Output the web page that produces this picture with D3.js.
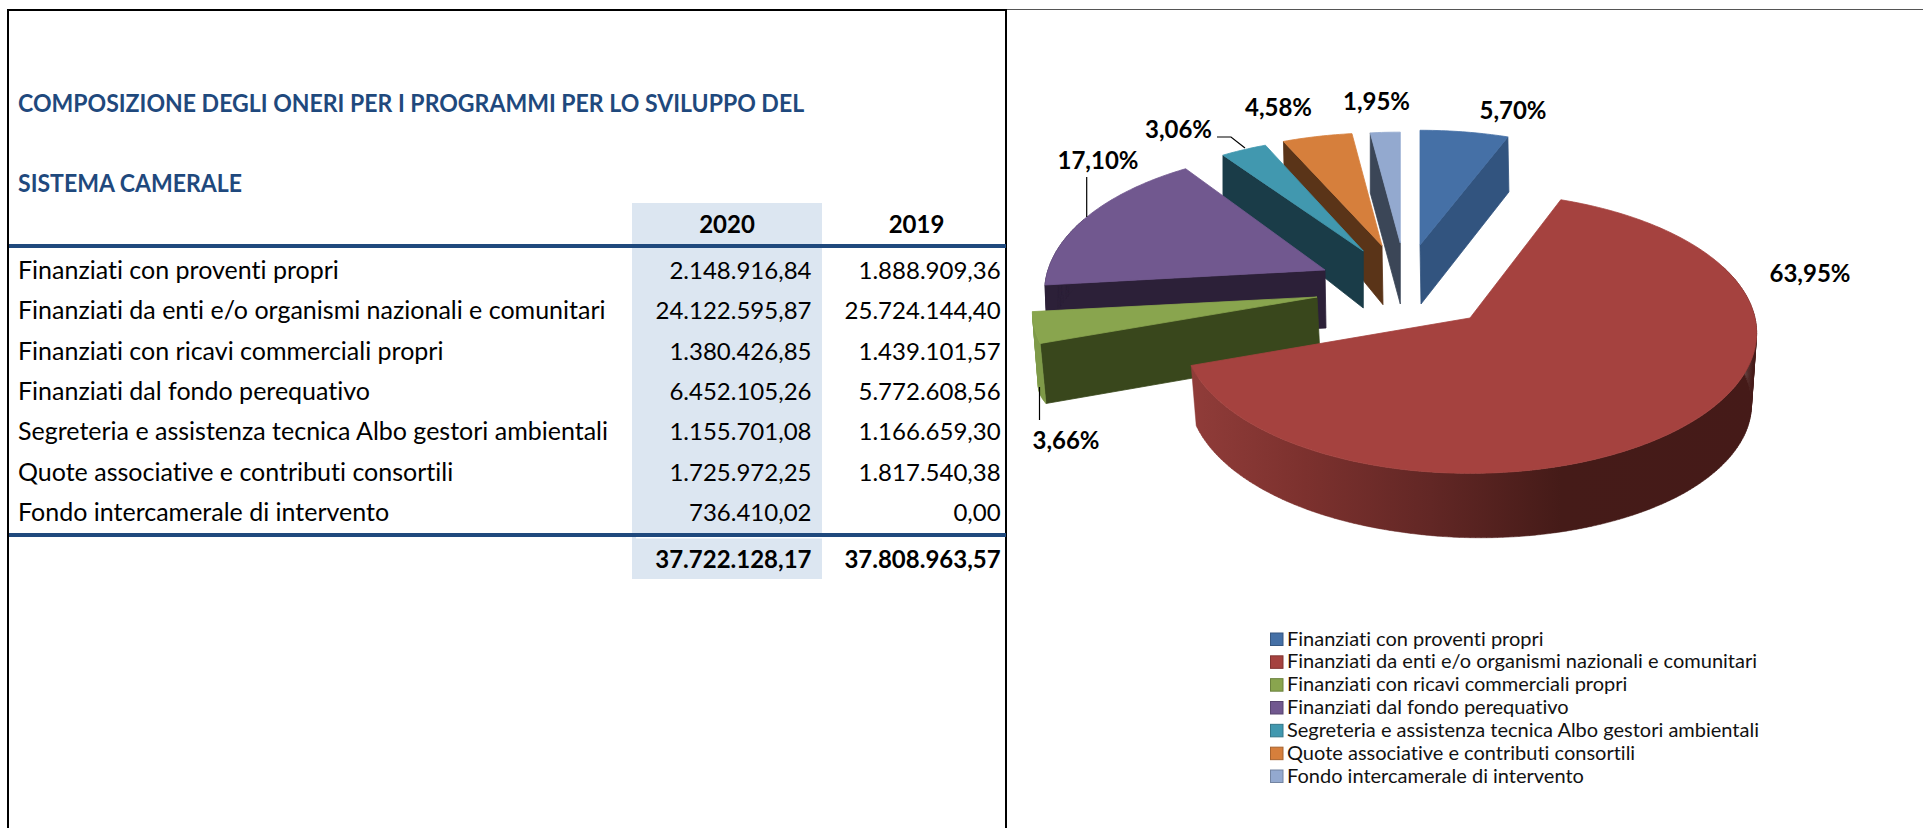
<!DOCTYPE html>
<html><head><meta charset="utf-8">
<script src="https://cdn.jsdelivr.net/npm/d3@7/dist/d3.min.js"></script>
<style>html,body{margin:0;padding:0;background:#fff}svg{display:block}text{font-family:Lato,"Open Sans",sans-serif;font-variant-ligatures:none}</style>
</head><body><svg id="c" width="1923" height="828"></svg>
<script>
const titleLines = ["COMPOSIZIONE DEGLI ONERI PER I PROGRAMMI PER LO SVILUPPO DEL","SISTEMA CAMERALE"];
const years = ["2020","2019"];
const categories = ["Finanziati con proventi propri","Finanziati da enti e/o organismi nazionali e comunitari","Finanziati con ricavi commerciali propri","Finanziati dal fondo perequativo","Segreteria e assistenza tecnica Albo gestori ambientali","Quote associative e contributi consortili","Fondo intercamerale di intervento"];
const values2020 = [2148916.84,24122595.87,1380426.85,6452105.26,1155701.08,1725972.25,736410.02];
const values2019 = [1888909.36,25724144.40,1439101.57,5772608.56,1166659.30,1817540.38,0];
const total2020 = 37722128.17;
const total2019 = 37808963.57;

// Styling / layout, separate from the data
const topColors  = ["#4570a6","#a5423f","#89a54e","#71588f","#4198af","#d67f3c","#93a9cf"];
const wallColors = ["#32547f","#8f3b38","#39471c","#2c2038","#1a3c48","#5a3418","#3b4657"];
const outerColors= ["#32547f","url(#redWall)","#7e9a48","#2c2038","#1a3c48","#5a3418","#3b4657"];
const geom = [
 {ax:1420,  ay:245,  R:275,k:.46, da:59,arc:[58,55],dx:1,xs:1},
 {ax:1470,  ay:318,  R:285,k:.487,da:65,arc:[70,73,69,63,60],dx:0,xs:.982},
 {ax:1317,  ay:297,  R:283,k:.48, da:59,arc:[60,74],dx:3,xs:.99},
 {ax:1325,  ay:270,  R:277,k:.5,  da:58,arc:[58,58],dx:1,xs:.995,D:1800},
 {ax:1363.3,ay:251,  R:268,k:.47, da:57,arc:[43,43],dx:0,xs:1},
 {ax:1382,  ay:245.7,R:270,k:.46, da:59,arc:[43,45],dx:1,xs:1},
 {ax:1400.3,ay:243,  R:270,k:.452,da:61,arc:[60,60],dx:0,xs:1}
];
const drawOrder = [6,0,5,4,3,2,1];
const labelPos = [[1513,111],[1810,274],[1066,441],[1098,161],[1178.5,130],[1278.5,108],[1376.5,102]];
const leaders = [
 [[1086.7,177],[1086.7,217]],
 [[1217,137],[1231,137],[1245,148]],
 [[1039.5,387],[1039.5,420]]
];
const D0 = 2679;

const svg = d3.select("#c");
const it = d3.formatLocale({decimal:",",thousands:".",grouping:[3],currency:["",""]});
const money = it.format(",.2f");
const pct = it.format(".2%");

const defs = svg.append("defs");
const g = defs.append("linearGradient").attr("id","redWall").attr("gradientUnits","userSpaceOnUse").attr("x1",1192).attr("x2",1760).attr("y1",0).attr("y2",0);
[[0,"#903c39"],[.2,"#7c312e"],[.42,"#622725"],[.65,"#451b18"],[1,"#451a18"]].forEach(s=>g.append("stop").attr("offset",s[0]).attr("stop-color",s[1]));

// ---- table
const ink = "#1f497d";
svg.append("rect").attr("x",632).attr("y",203).attr("width",190).attr("height",376).attr("fill","#dce6f1");
svg.append("rect").attr("x",636).attr("y",537).attr("width",186).attr("height",1.5).attr("fill","#fff");
svg.append("line").attr("x1",1006).attr("x2",1923).attr("y1",9.5).attr("y2",9.5).attr("stroke","#555").attr("stroke-width",1);
svg.append("path").attr("d","M8 828V10H1006V828").attr("fill","none").attr("stroke","#000").attr("stroke-width",2);
[246,535].forEach(y=>svg.append("rect").attr("x",9).attr("y",y-2).attr("width",997).attr("height",4).attr("fill",ink));

function fit(sel,scale){ sel.each(function(){ const w=this.getComputedTextLength(); d3.select(this).attr("textLength",w*scale).attr("lengthAdjust","spacingAndGlyphs"); }); return sel; }

const T = svg.append("g");
fit(T.selectAll(".t").data(titleLines).join("text").attr("x",18).attr("y",(d,i)=>[112,192][i]).attr("font-size",24).attr("font-weight",700).attr("fill",ink).text(d=>d),.96);
T.selectAll(".h").data(years).join("text").attr("x",(d,i)=>[727,916.5][i]).attr("y",233).attr("text-anchor","middle").attr("font-size",24).attr("font-weight",700).attr("fill","#000").text(d=>d);
const rowY = d3.scaleLinear().domain([0,6]).range([271,513]);
const rows = T.selectAll(".r").data(categories).join("g").attr("transform",(d,i)=>`translate(0,${rowY(i)+8})`);
rows.append("text").attr("x",18).attr("font-size",25).attr("fill","#000").text(d=>d);
rows.append("text").attr("x",811.5).attr("text-anchor","end").attr("font-size",24).attr("fill","#000").text((d,i)=>money(values2020[i]));
rows.append("text").attr("x",1000.6).attr("text-anchor","end").attr("font-size",24).attr("fill","#000").text((d,i)=>money(values2019[i]));
T.selectAll(".tot").data([total2020,total2019]).join("text").attr("x",(d,i)=>[811.5,1000.6][i]).attr("y",568).attr("text-anchor","end").attr("font-size",24).attr("font-weight",700).attr("fill","#000").text(d=>money(d));

// ---- pie
const arcs = d3.pie().sort(null)(values2020);
const line = d3.line();
function proj(s,a,bottom,depth){
  const D=s.D||D0, X=s.R*Math.sin(a), Y=s.R*Math.cos(a), sc=D/(D+Y);
  if(!bottom) return [s.ax+X*sc, s.ay-Y*sc*s.k];
  return [s.ax+s.dx+X*sc*s.xs, s.ay-Y*sc*s.k+depth];
}
const P = svg.append("g");
drawOrder.forEach(i=>{
  const s=geom[i], a=arcs[i], a0=a.startAngle, a1=a.endAngle;
  const n=Math.ceil((a1-a0)/(Math.PI/180));
  const ts=d3.range(n+1).map(j=>j/n);
  const dep=d3.piecewise(d3.interpolateNumber,s.arc);
  const ang=t=>a0+(a1-a0)*t;
  const apexT=[s.ax,s.ay], apexB=[s.ax+s.dx,s.ay+s.da];
  const topArc=ts.map(t=>proj(s,ang(t),false));
  const botArc=ts.map(t=>proj(s,ang(t),true,dep(t)));
  const G=P.append("g");
  const face=(k)=>[apexT,topArc[k],botArc[k],apexB];
  if(Math.cos(a1+Math.PI/2) < 0) G.append("path").attr("d",line(face(n))+"Z").attr("fill",wallColors[i]).attr("stroke",wallColors[i]).attr("stroke-width",.8);
  if(Math.cos(a0-Math.PI/2) < 0) G.append("path").attr("d",line(face(0))+"Z").attr("fill",wallColors[i]).attr("stroke",wallColors[i]).attr("stroke-width",.8);
  // outer wall: one quad per step, so the silhouette follows the tangent
  const vis=ts.filter(t=>Math.cos(ang(t))<0.4);
  if(vis.length>1){
    const quads=d3.pairs(vis).map(([p,q])=>line([proj(s,ang(p),false),proj(s,ang(q),false),proj(s,ang(q),true,dep(q)),proj(s,ang(p),true,dep(p))])+"Z").join("");
    G.append("path").attr("d",quads).attr("fill",outerColors[i]).attr("stroke",outerColors[i]).attr("stroke-width",.5);
  }
  G.append("path").attr("d",line([apexT].concat(topArc))+"Z").attr("fill",topColors[i]).attr("stroke",topColors[i]).attr("stroke-width",.8);
});

// ---- labels
const L = svg.append("g");
leaders.forEach(p=>L.append("path").attr("d",line(p)).attr("fill","none").attr("stroke","#000").attr("stroke-width",1.2));
L.selectAll("text").data(arcs).join("text").attr("x",(d,i)=>labelPos[i][0]).attr("y",(d,i)=>labelPos[i][1]+8).attr("text-anchor","middle").attr("font-size",24).attr("font-weight",700).attr("fill","#000").text(d=>pct(d.value/total2020));

// ---- legend
const legY = d3.scaleLinear().domain([0,6]).range([639,776]);
const Lg = svg.append("g").selectAll("g").data(categories).join("g").attr("transform",(d,i)=>`translate(0,${legY(i)})`);
Lg.append("rect").attr("x",1270.5).attr("y",-6).attr("width",12.5).attr("height",12.5).attr("fill",(d,i)=>topColors[i]).attr("stroke",(d,i)=>d3.color(topColors[i]).darker(.7)).attr("stroke-width",1);
Lg.append("text").attr("x",1287).attr("y",6.5).attr("font-size",20).attr("fill","#111").text(d=>d);
</script></body></html>
